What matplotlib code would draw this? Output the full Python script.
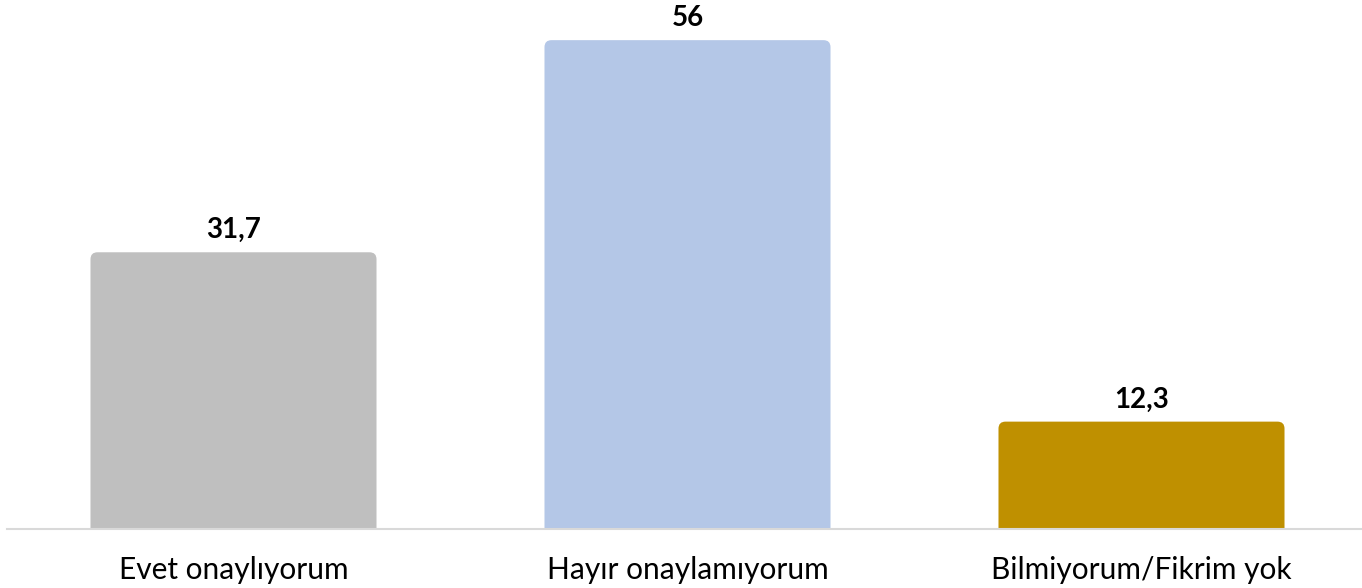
import matplotlib
matplotlib.use("Agg")
import matplotlib.pyplot as plt
from matplotlib.patches import FancyBboxPatch

categories = ["Evet onaylıyorum", "Hayır onaylamıyorum", "Bilmiyorum/Fikrim yok"]
values = [31.7, 56, 12.3]
value_labels = ["31,7", "56", "12,3"]
colors = ["#BFBFBF", "#B4C7E7", "#BF9000"]

plt.rcParams['font.family'] = ['Lato', 'DejaVu Sans']

W, H, DPI = 1362, 588, 100
fig = plt.figure(figsize=(W / DPI, H / DPI), dpi=DPI)
left_px = 6.5
unit_px = 454.0
ax = fig.add_axes([left_px / W, 59 / H, (W - left_px) / W, 529 / H])
ax.set_xlim(-0.5, -0.5 + (W - left_px) / unit_px)
ax.set_ylim(0, 60.6)

bar_w = 0.63
bars = ax.bar(range(len(values)), values, width=bar_w, color=colors)

# replace with rounded-top bars (bottom rounding hidden below axis)
px_x = unit_px
px_y = 529 / 60.6
r_px = 7
for b, c in zip(bars, colors):
    b.set_visible(False)
    x0 = b.get_x()
    h = b.get_height()
    rs = r_px / px_x
    p = FancyBboxPatch((x0, -2), bar_w, h + 2,
                       boxstyle=f"round,pad=0,rounding_size={rs}",
                       mutation_aspect=px_x / px_y,
                       facecolor=c, edgecolor="none", zorder=2, clip_on=True)
    ax.add_patch(p)

for i, (v, lab) in enumerate(zip(values, value_labels)):
    ax.annotate(lab, (i, v), xytext=(0, 14), textcoords="offset pixels",
                ha="center", va="baseline", fontsize=20, fontweight="bold",
                color="#000000")

for s in ["top", "right", "left"]:
    ax.spines[s].set_visible(False)
ax.spines["bottom"].set_color("#D9D9D9")
ax.spines["bottom"].set_linewidth(1.5)
ax.spines["bottom"].set_zorder(3)
ax.set_yticks([])
ax.set_xticks(range(len(categories)))
ax.set_xticklabels(categories, fontsize=21.5, color="#000000")
ax.tick_params(axis="x", length=0, pad=19.5)

fig.savefig("out.png", dpi=DPI)
